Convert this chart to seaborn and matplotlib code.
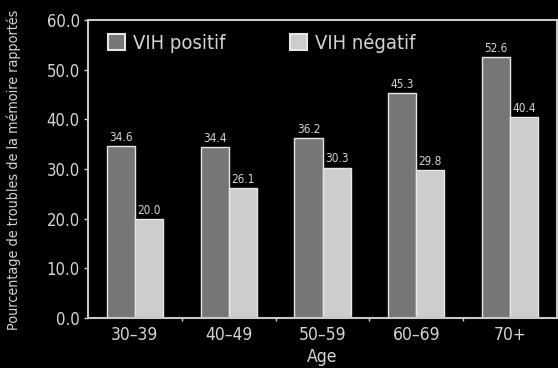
import matplotlib
matplotlib.use("Agg")
import matplotlib.pyplot as plt
import seaborn as sns
import pandas as pd
from matplotlib.ticker import FixedLocator

age_groups = ["30–39", "40–49", "50–59", "60–69", "70+"]
vih_positif = [34.6, 34.4, 36.2, 45.3, 52.6]
vih_negatif = [20.0, 26.1, 30.3, 29.8, 40.4]
series_names = ["VIH positif", "VIH négatif"]
y_ticks = [0, 10, 20, 30, 40, 50, 60]

df = pd.DataFrame({
    "Age": age_groups * 2,
    "Valeur": vih_positif + vih_negatif,
    "Statut": [series_names[0]] * len(age_groups) + [series_names[1]] * len(age_groups),
})

sns.set_style("dark")
plt.rcParams["font.family"] = ["Liberation Sans Narrow", "DejaVu Sans"]
plt.rcParams["font.stretch"] = "condensed"

fg = "#d4d4d4"
dark_bar = "#767676"
light_bar = "#cdcdcd"

fig = plt.figure(figsize=(5.58, 3.68), dpi=100, facecolor="black")
ax = fig.add_axes([88 / 558, 1 - 318 / 368, (557 - 88) / 558, (318 - 20) / 368])
ax.set_facecolor("black")

sns.barplot(data=df, x="Age", y="Valeur", hue="Statut", order=age_groups,
            hue_order=series_names, palette=[dark_bar, light_bar],
            width=0.6, edgecolor="#e6e6e6", linewidth=1.0, ax=ax)

for container in ax.containers:
    ax.bar_label(container, fmt="%.1f", color=fg, fontsize=8.5, padding=1.5)

ax.set_xlim(-0.5, 4.5)
ax.set_ylim(0, 60)
ax.set_yticks(y_ticks)
ax.set_yticklabels([f"{v:.1f}" for v in y_ticks])
ax.tick_params(axis="y", colors=fg, labelsize=12, length=3, width=1, direction="out",
               left=True, pad=3)
ax.tick_params(axis="x", colors=fg, labelsize=12.5, length=0, pad=6)
ax.xaxis.set_minor_locator(FixedLocator([0.5, 1.5, 2.5, 3.5]))
ax.tick_params(axis="x", which="minor", colors=fg, length=2, width=1, direction="out", bottom=True)
ax.grid(False)

for side in ["left", "top", "right", "bottom"]:
    ax.spines[side].set_visible(True)
    ax.spines[side].set_color("#c8c8c8")
    ax.spines[side].set_linewidth(1.5)

ax.set_xlabel("Age", color=fg, fontsize=12.5, labelpad=3)
ax.set_ylabel("Pourcentage de troubles de la mémoire rapportés", color=fg, fontsize=10.3)
ax.yaxis.set_label_coords(-0.143, 0.497)

leg = ax.legend(loc="upper left", ncol=2, frameon=False, fontsize=14.5,
                labelcolor=fg, handlelength=0.85, handleheight=0.85,
                columnspacing=3.2, handletextpad=0.4, borderpad=0, borderaxespad=0,
                bbox_to_anchor=(0.0426, 0.958))
for h in leg.legend_handles:
    h.set_edgecolor("#e6e6e6")
    h.set_linewidth(1.5)

fig.savefig("out.png", dpi=100, facecolor="black")
